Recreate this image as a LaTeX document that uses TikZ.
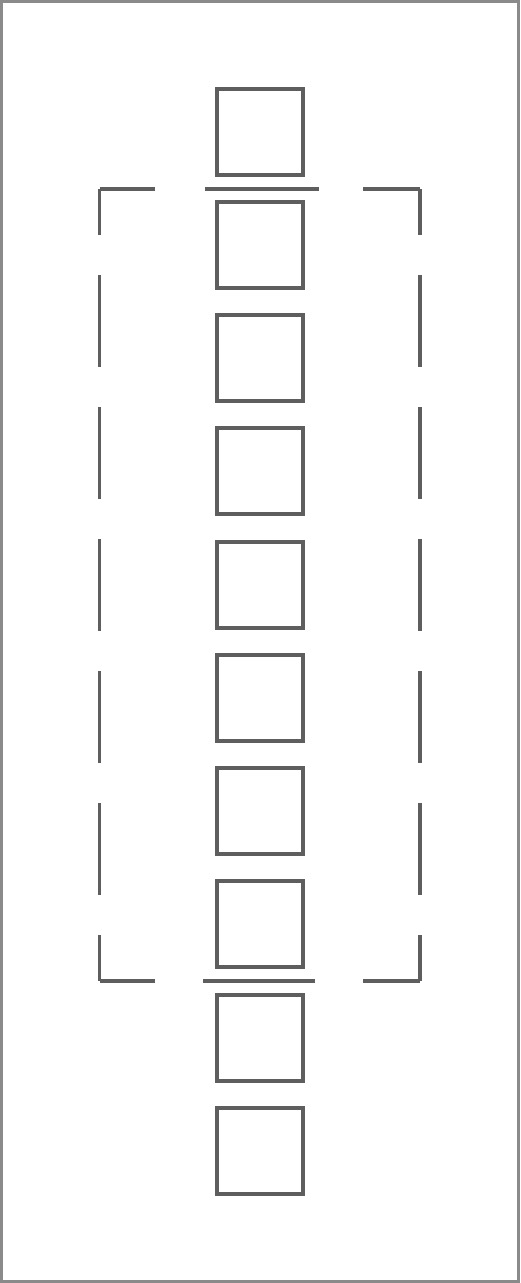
\documentclass[tikz,border=0pt]{standalone}
\usepackage{tikz}
\usetikzlibrary{positioning}
\definecolor{linegray}{HTML}{5E5E5E}
\definecolor{bordergray}{HTML}{8A8A8A}

\begin{document}
\begin{tikzpicture}
[
x=1pt, y=-1pt,
cell-a/.style={rectangle,draw=linegray,line width=4pt,minimum size=86pt,inner sep=0pt},
frame-a/.style={draw=linegray,line width=3.5pt},
sep-a/.style={draw=linegray,line width=4pt},
]
\useasboundingbox (0,0) rectangle (520,1283);
\draw [bordergray, line width=3pt] (1.5,1.5) rectangle (518.5,1281.5);
\foreach \k in {1,...,10}
  \node (sq\k) [cell-a] at (259.5, {131.5 + 113.25*(\k-1)}) {};
\coordinate (tl) at (99.5,189);
\coordinate (tr) at (420,189);
\coordinate (bl) at (99.5,981);
\coordinate (br) at (420,981);
\draw [frame-a, dash pattern=on 92pt off 40pt, dash phase=46pt] (tl) -- (bl);
\draw [frame-a, dash pattern=on 92pt off 40pt, dash phase=46pt] (tr) -- (br);
\draw [frame-a] (tl) -- ++(55,0);
\draw [frame-a] (tr) -- ++(-57,0);
\draw [frame-a] (bl) -- ++(55,0);
\draw [frame-a] (br) -- ++(-57,0);
\draw [sep-a] (205,189) -- (319,189);
\draw [sep-a] (203,981) -- (315,981);
\end{tikzpicture}
\end{document}
